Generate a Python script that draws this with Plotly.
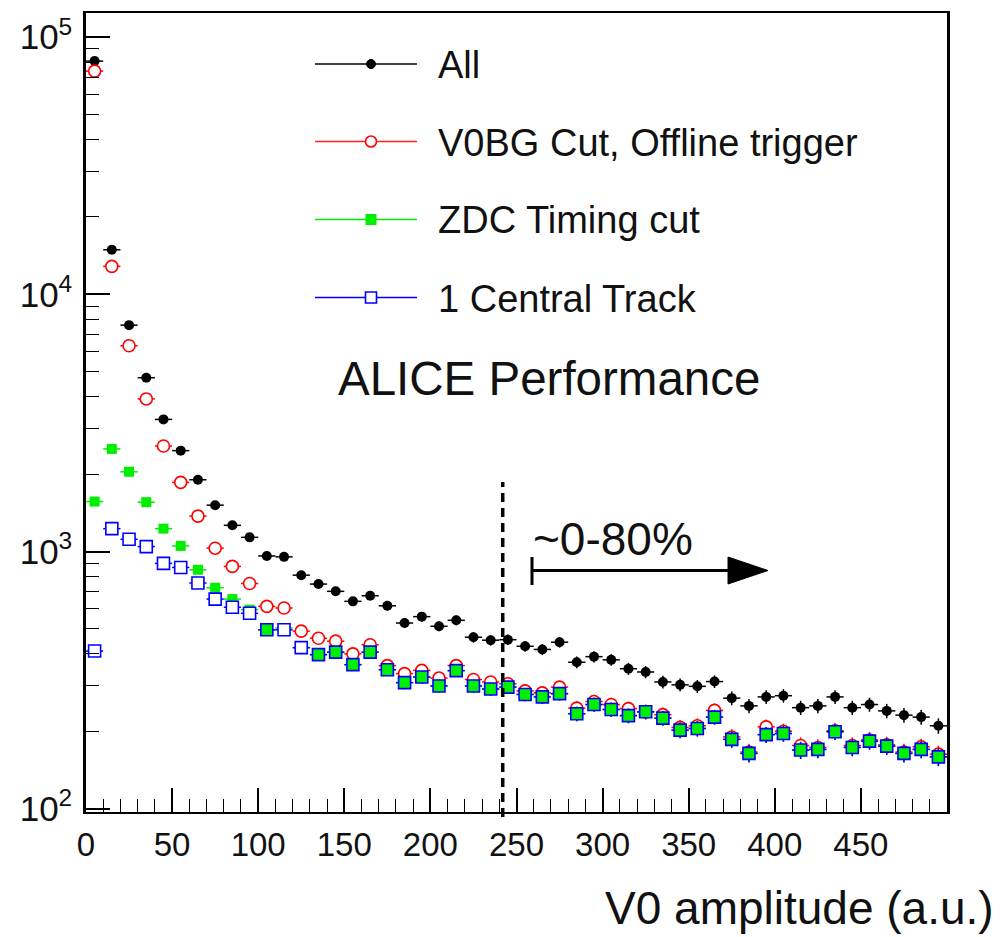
import plotly.graph_objects as go

# ---------------- data ----------------
v0_bin_center = [5, 15, 25, 35, 45, 55, 65, 75, 85, 95,
                 105, 115, 125, 135, 145, 155, 165, 175, 185, 195,
                 205, 215, 225, 235, 245, 255, 265, 275, 285, 295,
                 305, 315, 325, 335, 345, 355, 365, 375, 385, 395,
                 405, 415, 425, 435, 445, 455, 465, 475, 485, 495]

counts_all = [80700, 14900, 7590, 4740, 3263, 2467, 1901, 1514, 1264, 1135,
              961, 953, 809, 747, 700, 640, 673, 615, 527, 558,
              512, 540, 464, 452, 454, 428, 416, 444, 371, 390,
              379, 350, 340, 311, 303, 299, 312, 269, 251, 272,
              275, 247, 251, 272, 247, 254, 240, 231, 227, 210]

counts_v0bg = [73800, 12850, 6310, 3920, 2572, 1857, 1373, 1030, 875, 751,
               612, 603, 490, 460, 448, 400, 434, 360, 335, 345,
               322, 360, 318, 311, 306, 287, 282, 297, 246, 261,
               254, 245, 238, 232, 207, 210, 241, 190, 166, 208,
               200, 176, 173, 201, 176, 185, 177, 166, 174, 163]

counts_zdc = [1564, 2505, 2042, 1555, 1227, 1051, 849, 723, 653, 594,
              496, 504, 422, 397, 406, 363, 406, 347, 309, 325,
              300, 344, 300, 292, 297, 278, 272, 280, 234, 254,
              243, 230, 238, 225, 202, 205, 227, 186, 164, 194,
              196, 169, 170, 199, 173, 183, 175, 164, 170, 159]

counts_track = [410, 1227, 1116, 1045, 899, 867, 754, 653, 607, 575,
                496, 496, 423, 397, 406, 363, 406, 347, 309, 325,
                300, 344, 300, 292, 297, 278, 272, 280, 234, 254,
                243, 230, 238, 225, 202, 205, 227, 186, 164, 194,
                196, 169, 170, 199, 173, 183, 175, 164, 170, 159]

series_names = ["All", "V0BG Cut, Offline trigger", "ZDC Timing cut", "1 Central Track"]
x_tick_values = [0, 50, 100, 150, 200, 250, 300, 350, 400, 450]
y_tick_values = [100, 1000, 10000, 100000]
y_tick_text = ["10<sup>2</sup>", "10<sup>3</sup>", "10<sup>4</sup>", "10<sup>5</sup>"]
bin_half_width = 5
centrality_cut = 242

FONT = "Liberation Sans, Arial, Helvetica, sans-serif"
GREEN = "#00ee00"

# ---------------- geometry helpers (pixel -> paper) ----------------
W, H = 1004, 937
ML, MR, MT, MB = 86, 57, 13, 125
PW, PH = W - ML - MR, H - MT - MB


def xp(px):
    return (px - ML) / PW


def yp(py):
    return (H - MB - py) / PH


fig = go.Figure()

# blue open squares: interior white where alone, green where they sit on the ZDC points
track_fill = ["white" if t != z else GREEN for t, z in zip(counts_track, counts_zdc)]

styles = [
    dict(color="#000000", symbol="circle", size=10, line=dict(width=0)),
    dict(color="white", symbol="circle", size=12, line=dict(width=1.6, color="#ff0000")),
    dict(color=GREEN, symbol="square", size=10, line=dict(width=0)),
    dict(color=track_fill, symbol="square", size=12, line=dict(width=1.6, color="#0000ff")),
]
series = [counts_all, counts_v0bg, counts_zdc, counts_track]
err_colors = ["#000000", "#ff0000", GREEN, "#0000ff"]

for name, ys, st, ec in zip(series_names, series, styles, err_colors):
    fig.add_trace(go.Scatter(
        x=v0_bin_center, y=ys, name=name, mode="markers",
        marker=st, showlegend=False,
        error_x=dict(type="constant", value=bin_half_width, width=0, thickness=1.5, color=ec),
        error_y=dict(type="sqrt", width=0, thickness=1.5, color=ec),
    ))

minor_y = [m * 10 ** e for e in range(2, 5) for m in range(2, 10)]

fig.update_xaxes(
    range=[0, 500], tickvals=x_tick_values, ticks="inside", ticklen=24, tickwidth=1.5,
    tickcolor="black", showgrid=False, zeroline=False, showline=True, linewidth=2,
    linecolor="black", mirror=True, tickfont=dict(family=FONT, size=33, color="#111"),
    ticklabelstandoff=2,
    minor=dict(ticks="inside", ticklen=13, tickwidth=1.2, tickcolor="black", dtick=10, tick0=0,
               showgrid=False),
)
fig.update_yaxes(
    type="log", range=[1.987, 5.094], tickmode="array", tickvals=y_tick_values, ticktext=y_tick_text,
    ticks="inside", ticklen=24, tickwidth=1.5, tickcolor="black", showgrid=False, zeroline=False,
    showline=True, linewidth=2.5, linecolor="black", mirror=True,
    tickfont=dict(family=FONT, size=35, color="#111"), ticklabelstandoff=4,
    minor=dict(ticks="inside", ticklen=13, tickwidth=1.2, tickcolor="black", tickmode="array",
               tickvals=minor_y, showgrid=False),
)

shapes = []
# dashed centrality boundary
shapes.append(dict(type="line", xref="x", yref="paper", x0=centrality_cut, x1=centrality_cut,
                   y0=yp(817), y1=yp(482), line=dict(color="black", width=3.5, dash="9px,6px")))
# arrow
shapes.append(dict(type="line", xref="paper", yref="paper", x0=xp(532), x1=xp(532),
                   y0=yp(557), y1=yp(585), line=dict(color="black", width=3)))
shapes.append(dict(type="line", xref="paper", yref="paper", x0=xp(532), x1=xp(732),
                   y0=yp(570.5), y1=yp(570.5), line=dict(color="black", width=3)))
shapes.append(dict(type="path", xref="paper", yref="paper",
                   path=f"M {xp(728)},{yp(557)} L {xp(768)},{yp(570.5)} L {xp(728)},{yp(584)} Z",
                   fillcolor="black", line=dict(color="black", width=1)))

# manual legend
legend_rows = [64, 141.5, 219.5, 297.5]
leg_line_colors = ["#000000", "#ff2020", GREEN, "#0000ff"]
annotations = []
for i, (row_y, lc) in enumerate(zip(legend_rows, leg_line_colors)):
    shapes.append(dict(type="line", xref="paper", yref="paper", x0=xp(315), x1=xp(417),
                       y0=yp(row_y), y1=yp(row_y), line=dict(color=lc, width=1.5)))
    cx = 371
    if i == 0:
        r = 4.5
        shapes.append(dict(type="circle", xref="paper", yref="paper", x0=xp(cx - r), x1=xp(cx + r),
                           y0=yp(row_y + r), y1=yp(row_y - r), fillcolor="black",
                           line=dict(color="black", width=1)))
    elif i == 1:
        r = 5.5
        shapes.append(dict(type="circle", xref="paper", yref="paper", x0=xp(cx - r), x1=xp(cx + r),
                           y0=yp(row_y + r), y1=yp(row_y - r), fillcolor="white",
                           line=dict(color="#ff0000", width=1.6)))
    elif i == 2:
        r = 5.5
        shapes.append(dict(type="rect", xref="paper", yref="paper", x0=xp(cx - r), x1=xp(cx + r),
                           y0=yp(row_y + r), y1=yp(row_y - r), fillcolor=GREEN,
                           line=dict(color=GREEN, width=0)))
    else:
        r = 5.5
        shapes.append(dict(type="rect", xref="paper", yref="paper", x0=xp(cx - r), x1=xp(cx + r),
                           y0=yp(row_y + r), y1=yp(row_y - r), fillcolor="white",
                           line=dict(color="#0000ff", width=1.6)))
    annotations.append(dict(xref="paper", yref="paper", x=xp(436), y=yp(row_y + 1), text=series_names[i],
                            xanchor="left", yanchor="middle", showarrow=False,
                            font=dict(family=FONT, size=38, color="#111")))

annotations.append(dict(xref="paper", yref="paper", x=xp(549), y=yp(378), text="ALICE Performance",
                        xanchor="center", yanchor="middle", showarrow=False,
                        font=dict(family=FONT, size=47.5, color="#111")))
annotations.append(dict(xref="paper", yref="paper", x=xp(531), y=yp(539), text="~0-80%",
                        xanchor="left", yanchor="middle", showarrow=False,
                        font=dict(family=FONT, size=46, color="#111")))
annotations.append(dict(xref="paper", yref="paper", x=xp(996), y=yp(936), text="V0 amplitude (a.u.)",
                        xanchor="right", yanchor="bottom", showarrow=False,
                        font=dict(family=FONT, size=46, color="#111")))

fig.update_layout(
    width=W, height=H, margin=dict(l=ML, r=MR, t=MT, b=MB, autoexpand=False),
    plot_bgcolor="white", paper_bgcolor="white", showlegend=False,
    shapes=shapes, annotations=annotations, font=dict(family=FONT),
)

fig.write_html("out.html")
